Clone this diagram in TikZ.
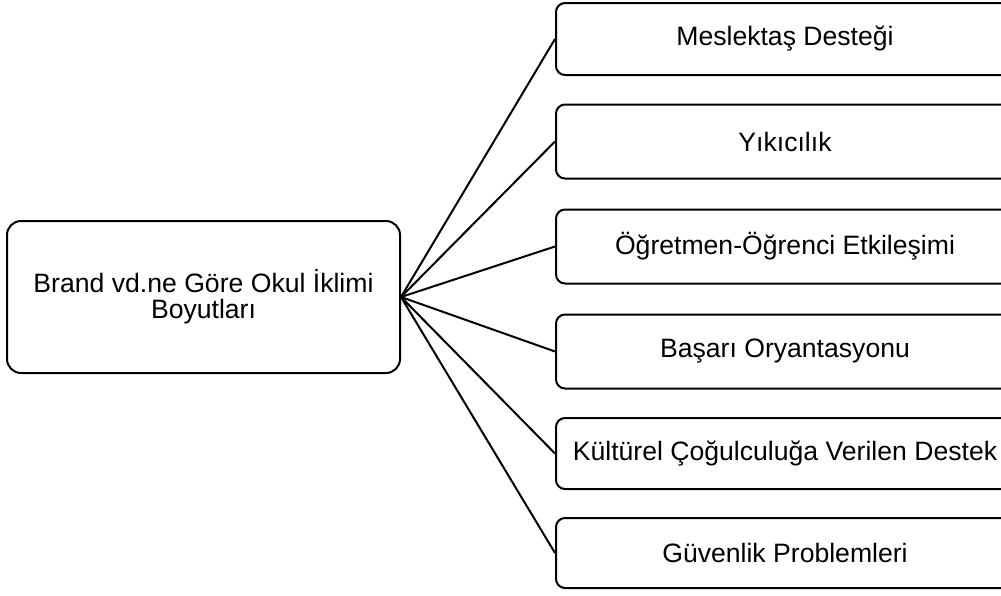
\documentclass[tikz,border=0pt]{standalone}
\usepackage{fontspec}
\setmainfont{Liberation Sans}
\begin{document}
\begin{tikzpicture}[x=1pt,y=-1pt,
  box/.style={draw=black,line width=2pt,rounded corners=9pt,fill=white,
    align=center,inner sep=0pt,font=\fontsize{26.6}{26}\selectfont},
  rbox/.style={box,minimum width=458pt,minimum height=72pt},
  link/.style={line width=2pt,black}]
\useasboundingbox (0,0) rectangle (1001,595);
\node[box,rounded corners=14pt,minimum width=393pt,minimum height=152pt] (root) at (203.5,297)
  {Brand vd.ne Göre Okul İklimi\\Boyutları};
\node[rbox] (b1) at (785,39) {Meslektaş Desteği};
\node[rbox,minimum height=74pt] (b2) at (785,141.5) {Yıkıcılık};
\node[rbox,minimum height=74pt] (b3) at (785,246.5) {Öğretmen-Öğrenci Etkileşimi};
\node[rbox,minimum height=74pt] (b4) at (785,351.5) {Başarı Oryantasyonu};
\node[rbox,minimum height=71pt] (b5) at (785,453.5) {Kültürel Çoğulculuğa Verilen Destek};
\node[rbox,minimum height=70pt] (b6) at (785,553) {Güvenlik Problemleri};
\foreach \n in {b1,b2,b3,b4,b5,b6}
  \draw[link] (root.east) -- (\n.west);
\end{tikzpicture}
\end{document}
